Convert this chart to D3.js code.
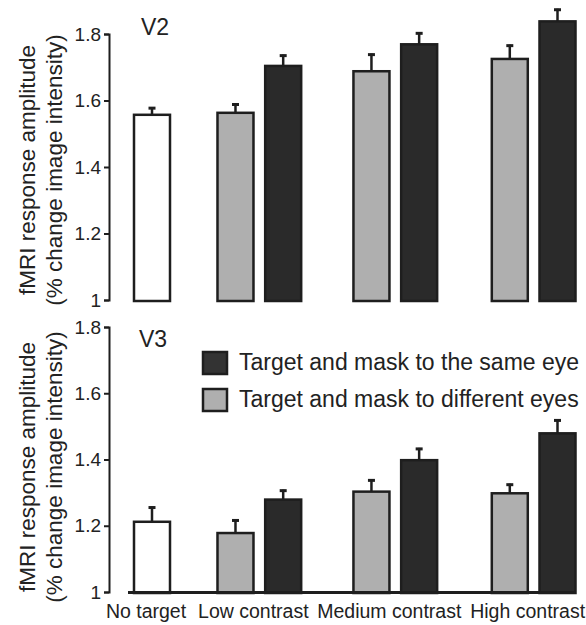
<!DOCTYPE html>
<html>
<head>
<meta charset="utf-8">
<script src="https://cdn.jsdelivr.net/npm/d3@7"></script>
<style>
  body { margin: 0; background: #fff; }
  svg text { font-family: "Liberation Sans", Arial, Helvetica, sans-serif; fill: #222; }
</style>
</head>
<body>
<div class="chart"></div>
<script>
// data
var categories = ["No target", "Low contrast", "Medium contrast", "High contrast"];
var legendLabels = ["Target and mask to the same eye", "Target and mask to different eyes"];
var yTicks = [1, 1.2, 1.4, 1.6, 1.8];

var v2NoTarget = [1.557], v2NoTargetErr = [0.023];
var v2Different = [1.563, 1.688, 1.725], v2DifferentErr = [0.028, 0.053, 0.043];
var v2Same = [1.704, 1.769, 1.838], v2SameErr = [0.034, 0.036, 0.038];

var v3NoTarget = [1.212], v3NoTargetErr = [0.046];
var v3Different = [1.178, 1.303, 1.298], v3DifferentErr = [0.041, 0.037, 0.029];
var v3Same = [1.279, 1.398, 1.479], v3SameErr = [0.03, 0.037, 0.042];

var width = 586, height = 625;
var colors = {none: "#ffffff", different: "#afafaf", same: "#2a2a2a"};
var ink = "#1e1e1e";

var svg = d3.select(".chart").append("svg")
    .attr("width", width)
    .attr("height", height);

// bar slots along the x axis (no target, then gray/dark pairs)
var slots = [0, 1.75, 2.75, 4.6, 5.6, 7.5, 8.5];
var x = d3.scaleLinear().domain([0, 8.5]).range([152, 557.5]);
var barW = 36;

function buildBars(noT, noTErr, diff, diffErr, same, sameErr) {
    var bars = [{value: noT[0], err: noTErr[0], type: "none", slot: slots[0]}];
    diff.forEach(function(v, i) {
        bars.push({value: v, err: diffErr[i], type: "different", slot: slots[1 + i * 2]});
        bars.push({value: same[i], err: sameErr[i], type: "same", slot: slots[2 + i * 2]});
    });
    return bars;
}

var panels = [
    {name: "V2", range: [300, 34], bars: buildBars(v2NoTarget, v2NoTargetErr, v2Different, v2DifferentErr, v2Same, v2SameErr),
     label: [141, 35], titleY: 170, baseline: false},
    {name: "V3", range: [592, 327], bars: buildBars(v3NoTarget, v3NoTargetErr, v3Different, v3DifferentErr, v3Same, v3SameErr),
     label: [139, 347], titleY: 467, baseline: true}
];

panels.forEach(function(p) {
    var y = d3.scaleLinear().domain([1, 1.8]).range(p.range);
    var g = svg.append("g");

    var axis = g.append("g")
        .attr("transform", "translate(109,0)")
        .call(d3.axisLeft(y).tickValues(yTicks).tickSize(5).tickPadding(3)
            .tickFormat(function(d) { return d === 1 ? "1" : d.toFixed(1); }));
    axis.selectAll("path, line").attr("stroke", ink).attr("stroke-width", 2);
    axis.selectAll("text").style("font-size", "19px").attr("fill", "#222");

    // y title, two lines
    var t = g.append("text")
        .attr("transform", "translate(0," + p.titleY + ") rotate(-90)")
        .attr("text-anchor", "middle")
        .style("font-size", "22.5px");
    t.append("tspan").attr("x", 0).attr("y", 35).text("fMRI response amplitude");
    t.append("tspan").attr("x", 0).attr("y", 62).text("(% change image intensity)");

    g.append("text")
        .attr("x", p.label[0]).attr("y", p.label[1])
        .style("font-size", "23px")
        .text(p.name);

    var bar = g.selectAll("g.bar").data(p.bars).enter().append("g").attr("class", "bar");

    bar.append("line")
        .attr("x1", function(d) { return x(d.slot); })
        .attr("x2", function(d) { return x(d.slot); })
        .attr("y1", function(d) { return y(d.value); })
        .attr("y2", function(d) { return y(d.value + d.err); })
        .attr("stroke", ink).attr("stroke-width", 2.5);
    bar.append("line")
        .attr("x1", function(d) { return x(d.slot) - 3.5; })
        .attr("x2", function(d) { return x(d.slot) + 3.5; })
        .attr("y1", function(d) { return y(d.value + d.err) + 1; })
        .attr("y2", function(d) { return y(d.value + d.err) + 1; })
        .attr("stroke", ink).attr("stroke-width", 3);

    bar.append("rect")
        .attr("x", function(d) { return x(d.slot) - barW / 2; })
        .attr("width", barW)
        .attr("y", function(d) { return y(d.value); })
        .attr("height", function(d) { return y(1) - y(d.value) + 1; })
        .attr("fill", function(d) { return colors[d.type]; })
        .attr("stroke", ink).attr("stroke-width", 2.5);

    if (p.baseline) {
        g.append("line")
            .attr("x1", x(slots[0]) - barW / 2 - 6).attr("x2", x(slots[6]) + barW / 2)
            .attr("y1", y(1) + 0.5).attr("y2", y(1) + 0.5)
            .attr("stroke", ink).attr("stroke-width", 3);
    }
});

// category labels under the lower panel
var groupCenters = [x(slots[0]), (x(slots[1]) + x(slots[2])) / 2, (x(slots[3]) + x(slots[4])) / 2, (x(slots[5]) + x(slots[6])) / 2];
svg.selectAll("text.cat").data(categories).enter().append("text")
    .attr("class", "cat")
    .attr("x", function(d, i) { return groupCenters[i] - 6; })
    .attr("y", 618)
    .attr("text-anchor", "middle")
    .style("font-size", "19.5px")
    .text(function(d) { return d; });

// legend
var legend = svg.selectAll("g.legend").data(legendLabels).enter().append("g")
    .attr("class", "legend")
    .attr("transform", function(d, i) { return "translate(203," + (352 + i * 37) + ")"; });
legend.append("rect")
    .attr("width", 24).attr("height", 22)
    .attr("fill", function(d, i) { return i === 0 ? "#333333" : colors.different; })
    .attr("stroke", ink).attr("stroke-width", 2.5);
legend.append("text")
    .attr("x", 36).attr("y", 18)
    .style("font-size", "23px")
    .text(function(d) { return d; });
</script>
</body>
</html>
